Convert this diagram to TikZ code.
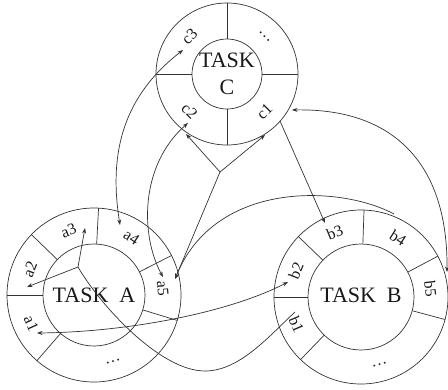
\documentclass[tikz,border=0pt]{standalone}
\usepackage{fontspec}
\setmainfont{Liberation Serif}
\usetikzlibrary{arrows.meta,calc}
\begin{document}
\begin{tikzpicture}[x=1pt,y=1pt,
  ring/.style={circle, draw=black!80, line width=0.7pt, inner sep=0pt, outer sep=0pt},
  lab/.style={font=\fontsize{16}{18}\selectfont, inner sep=0pt, text=black!90},
  big/.style={font=\fontsize{22}{27}\selectfont, inner sep=0pt, text=black!90},
  conn/.style={draw=black!80, line width=0.7pt},
  tipE/.style={-{Stealth[length=5.5pt,width=4pt]}},
  tipB/.style={{Stealth[length=5.5pt,width=4pt]}-{Stealth[length=5.5pt,width=4pt]}}]
\useasboundingbox (0,0) rectangle (448,-389);

% ---------- TASK C ----------
\node[ring, minimum size=142pt] (Cout) at (227,-74) {};
\node[ring, minimum size=70pt] (Cin) at (227,-74) {};
\node[big, anchor=base] (Ct1) at (227,-67) {TASK};
\node[big, anchor=base] (Ct2) at (227,-94) {C};
\foreach \a in {0,90,180,270} \draw[conn] (Cin.\a) -- (Cout.\a);
\node[lab, rotate=45]  (c3) at ($(Cin.center)+(135:53)$) {c3};
\node[lab, rotate=-45] (cdots) at ($(Cin.center)+(45:53)$) {\ldots};
\node[lab, rotate=-45] (c2) at ($(Cin.center)+(225:53)$) {c2};
\node[lab, rotate=45]  (c1) at ($(Cin.center)+(315:53)$) {c1};

% ---------- TASK A ----------
\node[ring, minimum size=174pt] (Aout) at (94,-295) {};
\node[ring, minimum size=102pt] (Ain) at (94,-295) {};
\node[big] (At) at (94,-295) {TASK\ \ A};
\foreach \a in {180,229,343,27,87,136} \draw[conn] (Ain.\a) -- (Aout.\a);
\node[lab, rotate=-65.5] (a1) at ($(Ain.center)+(204.5:69)$) {a1};
\node[lab, rotate=16]    (adots) at ($(Ain.center)+(286:69)$) {\ldots};
\node[lab, rotate=-85]   (a5) at ($(Ain.center)+(5:69)$) {a5};
\node[lab, rotate=-33]   (a4) at ($(Ain.center)+(57:69)$) {a4};
\node[lab, rotate=21.5]  (a3) at ($(Ain.center)+(111.5:69)$) {a3};
\node[lab, rotate=68]    (a2) at ($(Ain.center)+(158:69)$) {a2};

% ---------- TASK B ----------
\node[ring, minimum size=174pt] (Bout) at (361,-297) {};
\node[ring, minimum size=106pt] (Bin) at (361,-297) {};
\node[big] (Bt) at (361,-295) {TASK\ \ B};
\foreach \a in {180,226,345,28,88,136} \draw[conn] (Bin.\a) -- (Bout.\a);
\node[lab, rotate=-67]   (b1) at ($(Bin.center)+(203:70)$) {b1};
\node[lab, rotate=15.5]  (bdots) at ($(Bin.center)+(285.5:70)$) {\ldots};
\node[lab, rotate=-83.5] (b5) at ($(Bin.center)+(6.5:70)$) {b5};
\node[lab, rotate=-32]   (b4) at ($(Bin.center)+(58:70)$) {b4};
\node[lab, rotate=22]    (b3) at ($(Bin.center)+(112:70)$) {b3};
\node[lab, rotate=68]    (b2) at ($(Bin.center)+(158:70)$) {b2};

% ---------- connector end points ----------
\coordinate (c3tip) at (183,-50);
\coordinate (a4tip) at (120,-225);
\coordinate (c2tip) at (188,-123);
\coordinate (a5tip) at (163,-277);
\coordinate (J1) at (220,-172);
\coordinate (c2y) at (186,-134);
\coordinate (c1y) at (265,-135);
\coordinate (a5y) at (175,-279);
\coordinate (b4e) at (394,-214);
\coordinate (c1e) at (280,-121);
\coordinate (b3tip) at (325,-223);
\coordinate (c1tip) at (292,-110);
\coordinate (b5tip) at (447,-272);
\coordinate (a1tip) at (37,-333);
\coordinate (b2tip) at (288,-282);
\coordinate (J2) at (78,-267);
\coordinate (a3tip) at (85,-228);
\coordinate (a2tip) at (27,-287);
\coordinate (Abot) at (205,-371);
\coordinate (b1e) at (295,-312);

% ---------- connectors ----------
\draw[conn,tipB] (a4tip) .. controls (108,-150) and (125,-95) .. (c3tip);
\draw[conn,tipB] (c2tip) .. controls (140,-165) and (140,-235) .. (a5tip);
\draw[conn,tipE] (J1) -- (c2y);
\draw[conn,tipE] (J1) -- (c1y);
\draw[conn,tipE] (J1) -- (a5y);
\draw[conn,tipE] (b4e) .. controls (340,-185) and (215,-180) .. (a5y);
\draw[conn,tipE] (c1e) -- (b3tip);
\draw[conn,tipB] (c1tip) .. controls (390,-108) and (448,-160) .. (b5tip);
\draw[conn,tipB] (a1tip) .. controls (130,-332) and (230,-312) .. (b2tip);
\draw[conn,tipE] (J2) -- (a3tip);
\draw[conn,tipE] (J2) -- (a2tip);
\draw[conn] (J2) .. controls (100,-305) and (160,-371) .. (Abot)
            .. controls (240,-371) and (270,-335) .. (b1e);
\end{tikzpicture}
\end{document}
